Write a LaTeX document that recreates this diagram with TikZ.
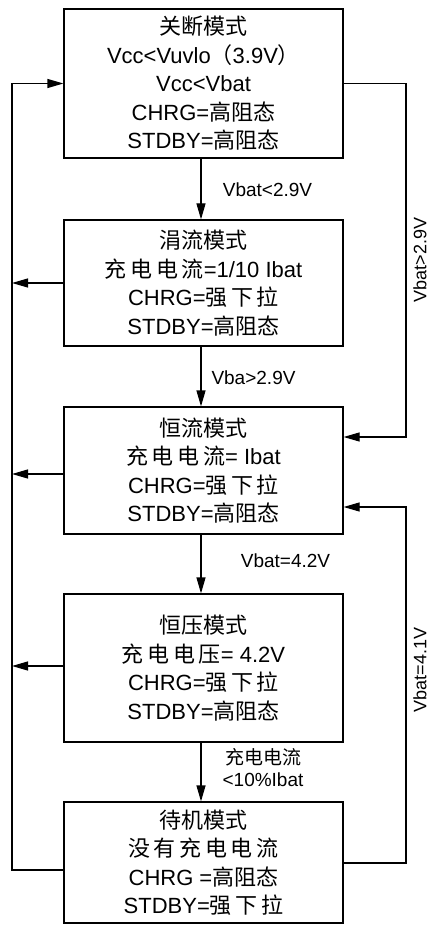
\documentclass[tikz,border=0pt]{standalone}
\usepackage{fontspec}
\setmainfont{Liberation Sans}
\newfontfamily\cjk{Noto Sans CJK SC}
\usetikzlibrary{arrows.meta}
\newcommand{\zh}[1]{{\cjk #1}}
\begin{document}
\begin{tikzpicture}[x=1pt,y=-1pt,
  box/.style={draw,line width=1.2pt,minimum width=279pt,inner sep=0pt,align=center,
    font=\fontsize{22}{28.5}\selectfont},
  arr/.style={line width=1.2pt,-{Triangle[length=16pt,width=9pt]}},
  lbl/.style={font=\fontsize{19}{23}\selectfont,inner sep=0pt,align=center},
  vlbl/.style={font=\fontsize{18}{23}\selectfont,inner sep=0pt,rotate=90}]
\useasboundingbox (0,0) rectangle (432,925);
\node[box,minimum height=149pt] (b1) at (203.5,83.5)
  {\zh{关断模式}\\Vcc<Vuvlo\zh{（}3.9V\zh{）}\\Vcc<Vbat\\CHRG=\zh{高阻态}\\STDBY=\zh{高阻态}};
\node[box,minimum height=126pt] (b2) at (203.5,283)
  {\zh{涓流模式}\\\zh{充\,电\,电\,流}=1/10 Ibat\\CHRG=\zh{强\,下\,拉}\\STDBY=\zh{高阻态}};
\node[box,minimum height=127pt] (b3) at (203.5,470.5)
  {\zh{恒流模式}\\\zh{充\,电\,电\,流}= Ibat\\CHRG=\zh{强\,下\,拉}\\STDBY=\zh{高阻态}};
\node[box,minimum height=148pt] (b4) at (203.5,668)
  {\zh{恒压模式}\\\zh{充\,电\,电\,压}= 4.2V\\CHRG=\zh{强\,下\,拉}\\STDBY=\zh{高阻态}};
\node[box,minimum height=121pt] (b5) at (203.5,862.5)
  {\zh{待机模式}\\\zh{没\,有\,充\,电\,电\,流}\\CHRG =\zh{高阻态}\\STDBY=\zh{强\,下\,拉}};
% vertical arrows
\draw[arr] ([xshift=-2.5pt]b1.south) -- ([xshift=-2.5pt]b2.north);
\draw[arr] ([xshift=-2.5pt]b2.south) -- ([xshift=-2.5pt]b3.north);
\draw[arr] ([xshift=-2.5pt]b3.south) -- ([xshift=-2.5pt]b4.north);
\draw[arr] ([xshift=-2.5pt]b4.south) -- ([xshift=-2.5pt]b5.north);
\node[lbl] (l1) at (267.5,190) {Vbat<2.9V};
\node[lbl] (l2) at (253.5,378) {Vba>2.9V};
\node[lbl] (l3) at (285.5,561) {Vbat=4.2V};
\node[lbl] (l4a) at (263,757) {\zh{充电电流}};
\node[lbl] (l4b) at (263,780) {<10\%Ibat};
% left loop
\coordinate (L1) at (12,870);
\draw[arr] (b5.west |- L1) -- (L1) |- (b1.west);
\draw[arr] (b2.west) -- (b2.west -| L1);
\draw[arr] ([yshift=-3.5pt]b3.west) -- ([yshift=-3.5pt]b3.west -| L1);
\draw[arr] ([yshift=2pt]b4.west) -- ([yshift=2pt]b4.west -| L1);
% right loops
\coordinate (R1) at (406,83.5);
\coordinate (R2) at (406,863);
\draw[arr] (b1.east) -- (R1) |- (b3.east |- 0,437);
\draw[arr] (b5.east |- R2) -- (R2) |- (b3.east |- 0,507);
\node[vlbl] (r1) at (420,260) {Vbat>2.9V};
\node[vlbl] (r2) at (420,670) {Vbat=4.1V};
\end{tikzpicture}
\end{document}
